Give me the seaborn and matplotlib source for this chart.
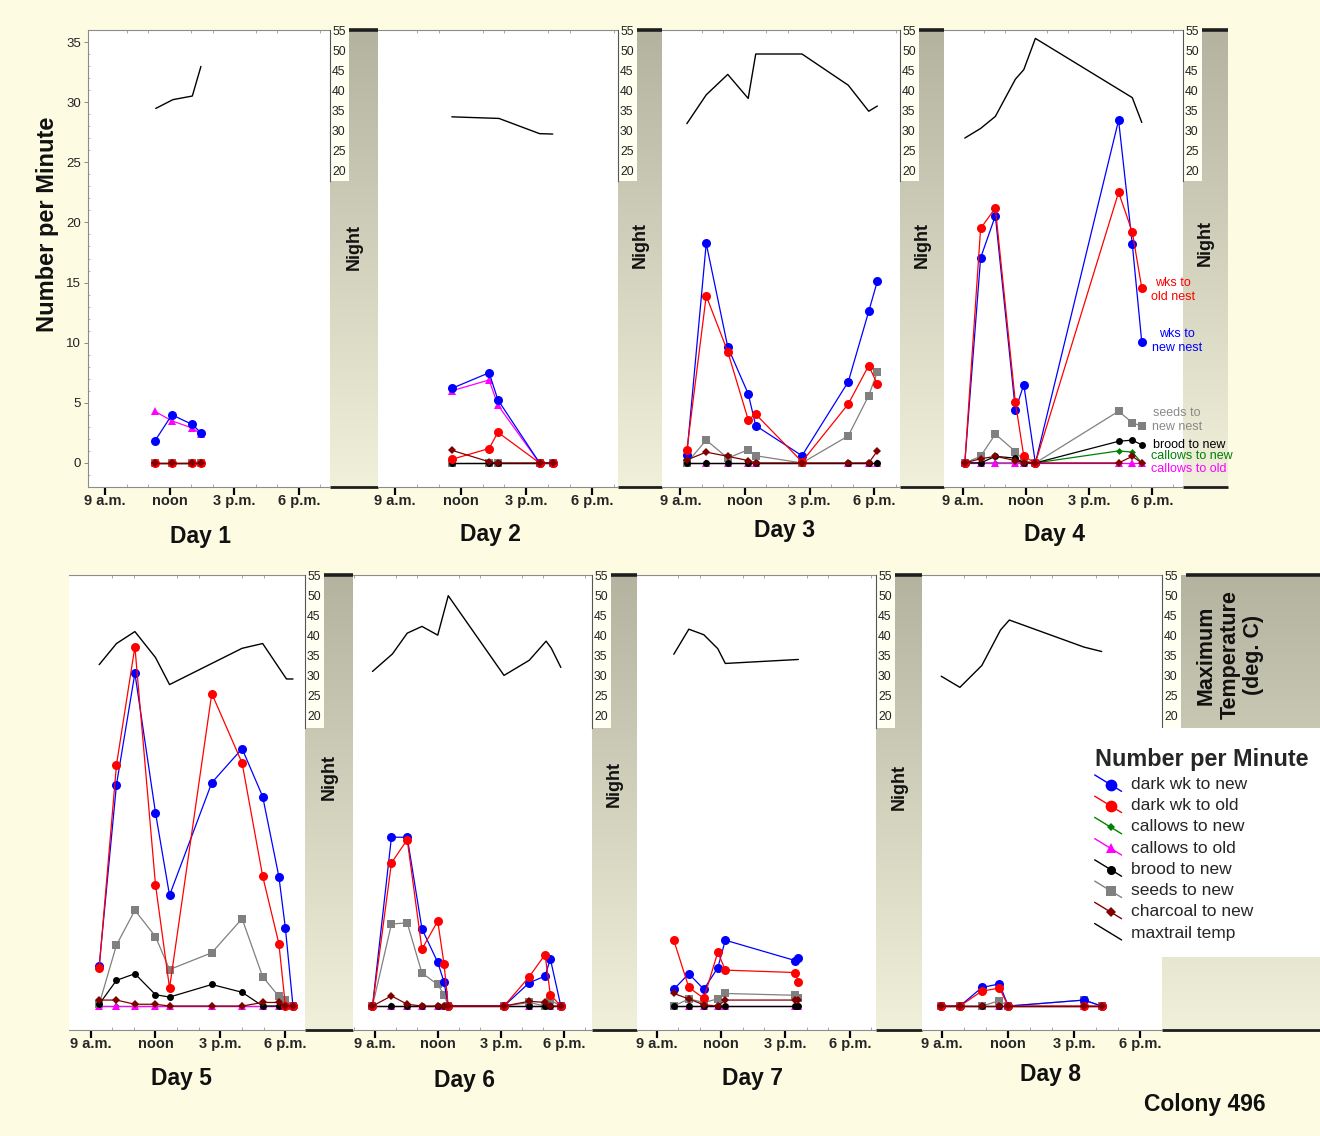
import numpy as np
import matplotlib
matplotlib.use('Agg')
import matplotlib.pyplot as plt
import seaborn as sns
from matplotlib.colors import LinearSegmentedColormap
from matplotlib.lines import Line2D
from matplotlib.patches import Rectangle
from matplotlib.legend_handler import HandlerBase
from matplotlib.ticker import MultipleLocator, FixedLocator

# ---- data (hours of day, number per minute, max trail temperature) ----
day_names = ['Day 1', 'Day 2', 'Day 3', 'Day 4', 'Day 5', 'Day 6', 'Day 7', 'Day 8']

hours = [
    [11.3, 12.1, 13.05, 13.45],
    [11.6, 13.3, 13.7, 15.6, 16.2],
    [9.3, 10.2, 11.2, 12.15, 12.5, 14.65, 16.8, 17.75, 18.15],
    [9.1, 9.85, 10.55, 11.5, 11.9, 12.45, 16.4, 17.05, 17.5],
    [9.4, 10.2, 11.05, 12.0, 12.65, 14.6, 16.0, 16.95, 17.7, 18.0, 18.35],
    [8.9, 9.8, 10.55, 11.25, 12.0, 12.3, 12.5, 15.15, 16.35, 17.1, 17.35, 17.85],
    [9.8, 10.5, 11.2, 11.85, 12.2, 15.45, 15.6],
    [8.95, 9.8, 10.8, 11.6, 12.0, 15.45, 16.25],
]

wk_new = [
    [1.8, 4.0, 3.2, 2.5],
    [6.2, 7.5, 5.25, 0, 0],
    [0.7, 18.25, 9.65, 5.75, 3.1, 0.6, 6.75, 12.6, 15.1],
    [0, 17.05, 20.55, 4.4, 6.5, 0, 28.5, 18.2, 10.05],
    [3.35, 18.5, 27.8, 16.15, 9.25, 18.65, 21.5, 17.5, 10.8, 6.5, 0],
    [0, 14.1, 14.1, 6.45, 3.65, 2.0, 0, 0, 1.95, 2.5, 3.95, 0],
    [1.4, 2.7, 1.4, 3.2, 5.5, 3.8, 4.05],
    [0, 0, 1.55, 1.85, 0, 0.5, 0],
]

wk_old = [
    [0, 0, 0, 0],
    [0.3, 1.2, 2.55, 0, 0],
    [1.05, 13.9, 9.25, 3.6, 4.05, 0.1, 4.9, 8.1, 6.55],
    [0, 19.5, 21.2, 5.05, 0.55, 0, 22.5, 19.2, 14.55],
    [3.15, 20.15, 30.0, 10.15, 1.5, 26.1, 20.3, 10.85, 5.2, 0, 0],
    [0, 11.95, 13.9, 4.75, 7.1, 3.5, 0, 0, 2.45, 4.3, 0.95, 0],
    [5.5, 1.55, 0.65, 4.5, 3.0, 2.8, 2.05],
    [0, 0, 1.25, 1.5, 0, 0, 0],
]

callows_new = [
    [0, 0, 0, 0],
    [0, 0, 0, 0, 0],
    [0, 0, 0, 0, 0, 0, 0, 0, 0],
    [0, 0, 0, 0, 0, 0, 1.0, 0.9, 0],
    [0, 0, 0, 0, 0, 0, 0, 0, 0, 0, 0],
    [0, 0, 0, 0, 0, 0, 0, 0, 0, 0, 0, 0],
    [0, 0, 0, 0, 0, 0, 0],
    [0, 0, 0, 0, 0, 0, 0],
]

callows_old = [
    [4.3, 3.5, 2.9, 2.4],
    [6.0, 6.9, 4.8, 0, 0],
    [0, 0, 0, 0, 0, 0, 0, 0, 0],
    [0, 0, 0, 0, 0, 0, 0, 0, 0],
    [0, 0, 0, 0, 0, 0, 0, 0, 0, 0, 0],
    [0, 0, 0, 0, 0, 0, 0, 0, 0, 0, 0, 0],
    [0, 0, 0, 0, 0, 0, 0],
    [0, 0, 0, 0, 0, 0, 0],
]

brood_new = [
    [0, 0, 0, 0],
    [0, 0, 0, 0, 0],
    [0, 0, 0, 0, 0, 0, 0, 0, 0],
    [0, 0, 0.55, 0.4, 0, 0, 1.8, 1.9, 1.5],
    [0.15, 2.15, 2.7, 0.95, 0.75, 1.8, 1.15, 0, 0, 0, 0],
    [0, 0, 0, 0, 0, 0, 0, 0, 0, 0, 0, 0],
    [0, 0, 0, 0, 0, 0, 0],
    [0, 0, 0, 0, 0, 0, 0],
]

seeds_new = [
    [0, 0, 0, 0],
    [0, 0, 0, 0, 0],
    [0, 1.9, 0.4, 1.1, 0.6, 0, 2.25, 5.6, 7.55],
    [0, 0.55, 2.4, 0.95, 0.2, 0, 4.3, 3.35, 3.05],
    [0.15, 5.1, 8.0, 5.8, 3.05, 4.45, 7.3, 2.45, 0.8, 0.5, 0],
    [0, 6.85, 6.95, 2.75, 1.8, 0.95, 0, 0, 0.3, 0, 0.5, 0],
    [0, 0.6, 0.3, 0.6, 1.05, 0.9, 0.7],
    [0, 0, 0, 0.45, 0, 0.5, 0],
]

charcoal_new = [
    [0, 0, 0, 0],
    [1.05, 0.1, 0, 0, 0],
    [0.25, 0.9, 0.55, 0.2, 0, 0, 0, 0, 1.0],
    [0, 0.35, 0.55, 0.2, 0, 0, 0, 0.55, 0],
    [0.5, 0.5, 0.15, 0.15, 0, 0, 0, 0.3, 0.3, 0, 0],
    [0, 0.85, 0.15, 0, 0, 0, 0, 0, 0.4, 0.3, 0, 0],
    [1.05, 0.6, 0.1, 0, 0.5, 0.5, 0.5],
    [0, 0, 0, 0, 0, 0, 0],
]

temp_hours = [
    [11.35, 12.15, 13.05, 13.45],
    [11.6, 13.75, 15.6, 16.2],
    [9.3, 10.2, 11.2, 12.15, 12.5, 14.65, 16.8, 17.75, 18.15],
    [9.1, 9.85, 10.55, 11.5, 11.9, 12.45, 17.05, 17.5],
    [9.4, 10.2, 11.05, 12.0, 12.65, 14.6, 16.0, 16.95, 18.05, 18.35],
    [8.9, 9.85, 10.55, 11.25, 12.0, 12.5, 15.15, 16.35, 17.15, 17.4, 17.85],
    [9.8, 10.5, 11.2, 11.85, 12.2, 15.6],
    [8.95, 9.8, 10.8, 11.65, 12.05, 15.45, 16.25],
]

max_temp = [
    [35.6, 37.8, 38.7, 46.1],
    [33.5, 33.1, 29.3, 29.2],
    [31.8, 39.0, 44.1, 38.1, 49.2, 49.2, 41.4, 34.9, 36.2],
    [28.2, 30.6, 33.6, 42.9, 45.3, 53.1, 38.3, 32.1],
    [32.7, 38.0, 41.0, 34.5, 27.7, 33.0, 36.8, 38.0, 29.1, 29.1],
    [31.0, 35.4, 40.6, 42.3, 40.1, 50.0, 30.0, 33.8, 38.6, 36.8, 32.0],
    [35.3, 41.6, 40.2, 36.7, 33.0, 34.0],
    [29.8, 27.0, 32.5, 41.4, 43.9, 37.1, 36.0],
]

tick_hours = [9, 12, 15, 18]
tick_labels = ['9 a.m.', 'noon', '3 p.m.', '6 p.m.']

# series styles, in legend order
series = [
    ('dark wk to new', wk_new, '#0000FF', 'o', 6.5),
    ('dark wk to old', wk_old, '#FF0000', 'o', 6.5),
    ('callows to new', callows_new, '#008000', 'D', 3.5),
    ('callows to old', callows_old, '#FF00FF', '^', 6),
    ('brood to new', brood_new, '#000000', 'o', 5),
    ('seeds to new', seeds_new, '#808080', 's', 5.5),
    ('charcoal to new', charcoal_new, '#800000', 'D', 4),
]
# green and pink first, charcoal last (it sits on top of the zero line)
draw_order = [2, 3, 5, 4, 0, 1, 6]

# ---- layout (pixels of the 1320x1136 picture) ----
W, H = 1320, 1136
BG = '#FDFCE3'
ROWS = [(30, 487), (575, 1030)]
DAY_PX = [(88, 330), (378, 618), (662, 900), (944, 1183),
          (69, 305), (353, 592), (637, 876), (922, 1162)]
NIGHT_PX = [(330, 378), (618, 662), (900, 944), (1183, 1228),
            (305, 353), (592, 637), (876, 922), (1162, 1320)]
# pixel position of the 9 a.m. and 6 p.m. ticks of every panel
TICK_PX = [(105.2, 298.8), (394.8, 592.2), (680.4, 874.1), (962.7, 1152.3),
           (90.5, 285.4), (374.6, 564.0), (656.6, 849.9), (942.3, 1140.1)]
DAY_LABEL_PX = [(200, 537), (490, 534), (785, 530), (1055, 534),
                (181, 1078), (465, 1080), (752, 1078), (1050, 1075)]
NIGHT_Y_FRAC = [0.525, 0.53, 0.53, 0.535, 0.556, 0.54, 0.534]
BOX_W = 19
Y_LIM = (-2, 36)
T_LIM = (-59, 55.2)


def px_rect(x0, x1, y0, y1):
    return [x0 / W, 1 - y1 / H, (x1 - x0) / W, (y1 - y0) / H]


def fx(x):
    return x / W


def fy(y):
    return 1 - y / H


class DiagonalHandler(HandlerBase):
    # legend entries drawn as a short diagonal line with the marker on it
    def create_artists(self, legend, orig_handle, xdescent, ydescent,
                       width, height, fontsize, trans):
        x0, x1 = -xdescent, -xdescent + width
        y0, y1 = -ydescent + height * 1.15, -ydescent - height * 0.2
        line = Line2D([x0, x1], [y0, y1], color=orig_handle.get_color(), lw=1.0)
        line.set_transform(trans)
        arts = [line]
        mk = orig_handle.get_marker()
        if mk not in (None, 'None', '', ' '):
            dot = Line2D([x0 + width * 0.6], [y0 + (y1 - y0) * 0.6], marker=mk,
                         ms=orig_handle.get_markersize() * 1.3,
                         color=orig_handle.get_color(), mew=0, linestyle='None')
            dot.set_transform(trans)
            arts.append(dot)
        return arts


sns.set_style('white')
plt.rcParams['font.family'] = ['Liberation Sans', 'DejaVu Sans']

fig = plt.figure(figsize=(W / 100, H / 100), dpi=100)
fig.patch.set_facecolor(BG)

night_cmap = LinearSegmentedColormap.from_list('night', ['#B4B3A0', '#F1F0DA'])
gradient = np.linspace(0, 1, 256).reshape(-1, 1)

# night bands first so the panels draw over them
for i, (x0, x1) in enumerate(NIGHT_PX):
    y0, y1 = ROWS[i // 4]
    nax = fig.add_axes(px_rect(x0, x1, y0, y1))
    nax.imshow(gradient, cmap=night_cmap, aspect='auto', extent=[0, 1, 0, 1],
               origin='upper', vmin=0, vmax=1)
    nax.set_xlim(0, 1)
    nax.set_ylim(0, 1)
    nax.axis('off')
    start = (BOX_W + 5 if i == 7 else BOX_W) / (x1 - x0)
    nax.plot([start, 1], [1, 1], color='#1E1E1E', lw=2.6, clip_on=False,
             solid_capstyle='butt')
    nax.plot([0, 1], [0, 0], color='#1E1E1E', lw=2.0, clip_on=False,
             solid_capstyle='butt')
    if i < 7:
        nax.text(0.5, NIGHT_Y_FRAC[i], 'Night', rotation=90, ha='center',
                 va='center', fontsize=13, fontweight='bold', color='#111111')

for i in range(8):
    x0, x1 = DAY_PX[i]
    y0, y1 = ROWS[i // 4]
    t9, t18 = TICK_PX[i]
    per_px = 9.0 / (t18 - t9)
    ax = fig.add_axes(px_rect(x0, x1, y0, y1))
    ax.set_facecolor('white')

    for k in draw_order:
        name, values, color, marker, ms = series[k]
        sns.lineplot(x=hours[i], y=values[i], ax=ax, color=color, marker=marker,
                     markersize=ms, markeredgewidth=0, markeredgecolor=color,
                     linewidth=0.9, estimator=None, sort=False, legend=False,
                     zorder=3)

    ax.set_xlim(9 + (x0 - t9) * per_px, 9 + (x1 - t9) * per_px)
    ax.set_ylim(*Y_LIM)
    ax.xaxis.set_major_locator(FixedLocator(tick_hours))
    ax.set_xticklabels(tick_labels, fontsize=10.5, fontweight='bold')
    ax.xaxis.set_minor_locator(MultipleLocator(1))
    ax.tick_params(axis='x', which='major', direction='out', length=6, width=1.6,
                   color='black', pad=-1.0, bottom=True, top=False)
    ax.tick_params(axis='x', which='minor', direction='in', length=2, width=0.6,
                   color='#999999', bottom=True, top=True)
    ax.set_xlabel('')
    ax.set_ylabel('')
    for side in ['top', 'bottom']:
        ax.spines[side].set_visible(True)
        ax.spines[side].set_color('#8C8C8C')
        ax.spines[side].set_linewidth(0.8)
    ax.spines['right'].set_visible(False)
    if i == 0:
        ax.spines['left'].set_visible(True)
        ax.spines['left'].set_color('#8C8C8C')
        ax.spines['left'].set_linewidth(0.8)
        ax.set_yticks(range(0, 40, 5))
        ax.yaxis.set_minor_locator(MultipleLocator(1))
        ax.tick_params(axis='y', which='major', direction='out', length=3,
                       width=0.6, color='#777777', labelsize=9.5, pad=2,
                       labelcolor='#222222', left=True)
        ax.tick_params(axis='y', which='minor', direction='in', length=1.5,
                       width=0.5, color='#999999', left=True)
    else:
        ax.spines['left'].set_visible(False)
        ax.set_yticks([])

    # temperature on a second axis, labels inside the night band
    ax2 = ax.twinx()
    sns.lineplot(x=temp_hours[i], y=max_temp[i], ax=ax2, color='black',
                 linewidth=1.0, estimator=None, sort=False, legend=False)
    ax2.set_ylim(*T_LIM)
    ax2.set_yticks(range(20, 60, 5))
    ax2.tick_params(axis='y', which='both', length=0, pad=1.5, labelsize=8.8,
                    labelcolor='#222222', right=True)
    ax2.set_ylabel('')
    for side in ['left', 'top', 'bottom']:
        ax2.spines[side].set_visible(False)
    box_bottom = 17.5 if i < 4 else 16.8
    ax2.spines['right'].set_visible(True)
    ax2.spines['right'].set_color('#555555')
    ax2.spines['right'].set_linewidth(0.8)
    ax2.spines['right'].set_bounds(box_bottom, T_LIM[1])
    box = Rectangle((1.0, box_bottom), BOX_W / (x1 - x0), T_LIM[1] - box_bottom,
                    transform=ax2.get_yaxis_transform(), facecolor='#FFFFF2',
                    edgecolor='none', clip_on=False, zorder=0.5)
    ax2.add_patch(box)

    lx, ly = DAY_LABEL_PX[i]
    fig.text(fx(lx), fy(ly), day_names[i], ha='center', va='center',
             fontsize=16.5, fontweight='bold', color='#111111')

# labels written next to the day 4 curves
notes = [
    ('wks to\nold nest', '#FF0000', 1173, 290, 'center'),
    ('wks to\nnew nest', '#0000FF', 1177, 341, 'center'),
    ('seeds to\nnew nest', '#8A8A8A', 1177, 420, 'center'),
    ('brood to new', '#000000', 1153, 445, 'left'),
    ('callows to new', '#008000', 1151, 456, 'left'),
    ('callows to old', '#FF00FF', 1151, 468.5, 'left'),
]
for text, color, x, y, ha in notes:
    fig.text(fx(x), fy(y), text, color=color, fontsize=9, ha=ha, va='center',
             linespacing=1.15)

fig.text(fx(48), fy(224), 'Number per Minute', rotation=90, ha='center',
         va='center', fontsize=17, fontweight='bold', color='#111111')
fig.text(fx(1230), fy(655), 'Maximum\nTemperature\n(deg. C)', rotation=90,
         ha='center', va='center', fontsize=15.5, fontweight='bold',
         color='#111111', linespacing=1.15)
fig.text(fx(1205), fy(1105), 'Colony 496', ha='center', va='center',
         fontsize=16.5, fontweight='bold', color='#111111')

# legend on its own white box
fig.patches.append(Rectangle((fx(1085), fy(957)), (1320 - 1085) / W, (957 - 728) / H,
                             transform=fig.transFigure, facecolor='white',
                             edgecolor='none', zorder=1))
handles = [Line2D([], [], color=c, marker=m, markersize=ms, mew=0)
           for _, _, c, m, ms in series]
handles.append(Line2D([], [], color='black', marker='None'))
labels = [s[0] for s in series] + ['maxtrail temp']
leg = fig.legend(handles, labels, loc='upper left',
                 bbox_to_anchor=(fx(1086), fy(739)), frameon=False,
                 fontsize=12.5, title='Number per Minute',
                 title_fontproperties={'weight': 'bold', 'size': 16.8},
                 handler_map={Line2D: DiagonalHandler()}, handlelength=1.55,
                 handletextpad=0.55, labelspacing=0.35, borderpad=0,
                 alignment='left')

plt.savefig('out.png', dpi=100, facecolor=BG)
